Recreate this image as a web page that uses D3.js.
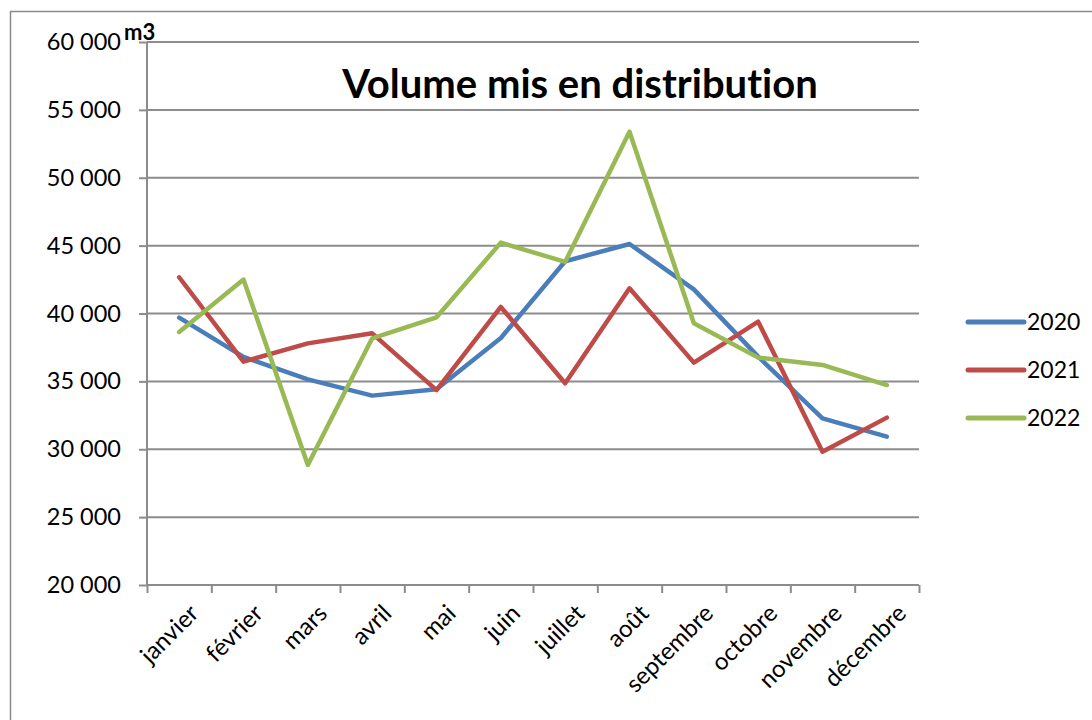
<!DOCTYPE html>
<html>
<head>
  <meta charset="UTF-8">
  <title>Volume mis en distribution</title>
  <style>
    body{
        margin: 0;
        background-color: #fff;
    }
    text{
        font-family: Lato, "Open Sans", sans-serif;
        font-variant-ligatures: none;
        fill: #000;
    }
  </style>
</head>
<body>
<svg></svg>
<script src="https://d3js.org/d3.v7.min.js"></script>

<script>

let width = 1092, height = 720;

// data (m3)
const months = ["janvier", "février", "mars", "avril", "mai", "juin", "juillet",
    "août", "septembre", "octobre", "novembre", "décembre"];
const years = ["2020", "2021", "2022"];
const vol2020 = [39700, 36800, 35150, 33950, 34420, 38200, 43850, 45120, 41780, 36820, 32280, 30930];
const vol2021 = [42670, 36450, 37800, 38540, 34360, 40480, 34860, 41860, 36380, 39400, 29820, 32330];
const vol2022 = [38640, 42500, 28840, 38170, 39720, 45220, 43800, 53390, 39280, 36750, 36210, 34730];
const yTicks = [20000, 25000, 30000, 35000, 40000, 45000, 50000, 55000, 60000];
const colors = ["#4a7ebb", "#be4b48", "#98b954"];

const series = years.map((yr, i) => ({
    name: yr,
    values: [vol2020, vol2021, vol2022][i],
    color: colors[i]
}));

let svg = d3.select("svg")
    .attr("width", width)
    .attr("height", height);

// outer chart frame (only left + top visible)
svg.append("path")
    .attr("d", "M10.5," + height + "V11.5H" + width)
    .attr("fill", "none")
    .attr("stroke", "#8a8a8a")
    .attr("stroke-width", 1.5);

let plotL = 147, plotR = 919, plotT = 42, plotB = 585;

let x = d3.scaleBand()
    .domain(months)
    .range([plotL, plotR]);

let xi = d3.scaleLinear()
    .domain([0, months.length])
    .range([plotL, plotR]);

let y = d3.scaleLinear()
    .domain([20000, 60000])
    .range([plotB, plotT]);

// gridlines
svg.append("g")
    .selectAll("line")
    .data(yTicks)
    .enter().append("line")
    .attr("x1", plotL)
    .attr("x2", plotR)
    .attr("y1", d => y(d))
    .attr("y2", d => y(d))
    .attr("stroke", "#8c8c8c")
    .attr("stroke-width", 2);

// y axis
let fmt = d3.format(",");
let yAxis = svg.append("g")
    .attr("transform", "translate(" + plotL + ",0)")
    .call(d3.axisLeft(y)
        .tickValues(yTicks)
        .tickSize(8)
        .tickPadding(18)
        .tickFormat(d => fmt(d).replace(",", " ")));
yAxis.selectAll("line").attr("stroke", "#8c8c8c").attr("stroke-width", 2);
yAxis.select(".domain").attr("stroke", "#8c8c8c").attr("stroke-width", 2).attr("d", "M0," + plotB + "V" + plotT);
yAxis.selectAll("text")
    .attr("font-size", 23.5)
    .style("font-family", "Lato, sans-serif");

// x axis: tick marks between categories
let xAxis = svg.append("g")
    .attr("transform", "translate(0," + plotB + ")")
    .call(d3.axisBottom(xi)
        .tickValues(d3.range(months.length + 1))
        .tickSize(8)
        .tickFormat(""));
xAxis.selectAll("line").attr("stroke", "#8c8c8c").attr("stroke-width", 2);
xAxis.select(".domain").attr("stroke", "#8c8c8c").attr("stroke-width", 2).attr("d", "M" + plotL + ",0H" + plotR);

// month labels, rotated
svg.append("g")
    .selectAll("text")
    .data(months)
    .enter().append("text")
    .attr("transform", d => "translate(" + (x(d) + x.bandwidth() / 2 + 9) + "," + (plotB + 18) + ") rotate(-45)")
    .attr("text-anchor", "end")
    .attr("dy", "0.7em")
    .attr("font-size", 24)
    .text(d => d);

// lines
let line = d3.line()
    .x((d, i) => x(months[i]) + x.bandwidth() / 2)
    .y(d => y(d));

svg.append("g")
    .selectAll("path")
    .data(series)
    .enter().append("path")
    .attr("d", d => line(d.values))
    .attr("fill", "none")
    .attr("stroke", d => d.color)
    .attr("stroke-width", 4.5)
    .attr("stroke-linejoin", "round")
    .attr("stroke-linecap", "round");

// title
svg.append("text")
    .attr("x", 580)
    .attr("y", 98)
    .attr("text-anchor", "middle")
    .attr("font-size", 40)
    .attr("font-weight", "bold")
    .text("Volume mis en distribution");

// unit
svg.append("text")
    .attr("x", 124)
    .attr("y", 40)
    .attr("font-size", 22)
    .attr("font-weight", "bold")
    .text("m3");

// legend
let lg = svg.append("g")
    .selectAll("g")
    .data(series)
    .enter().append("g")
    .attr("transform", (d, i) => "translate(968," + (322 + i * 48) + ")");
lg.append("line")
    .attr("x1", 0)
    .attr("x2", 56)
    .attr("stroke", d => d.color)
    .attr("stroke-width", 5)
    .attr("stroke-linecap", "round");
lg.append("text")
    .attr("x", 59)
    .attr("dy", "0.35em")
    .attr("font-size", 23)
    .text(d => d.name);

</script>

</body>
</html>
